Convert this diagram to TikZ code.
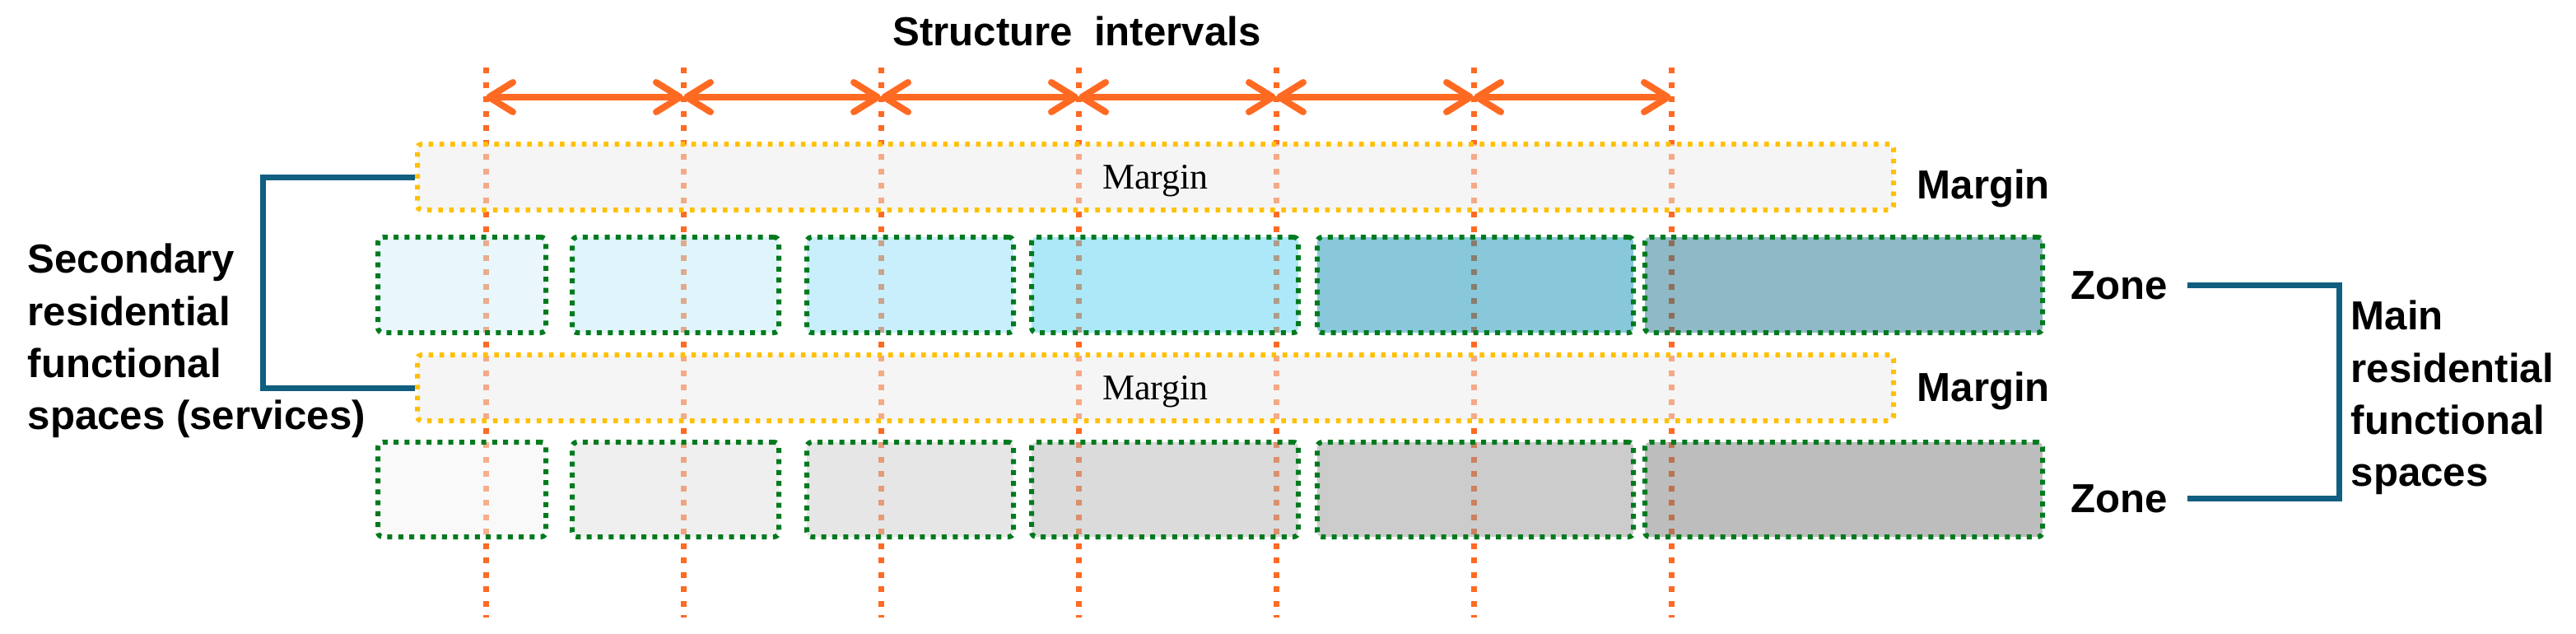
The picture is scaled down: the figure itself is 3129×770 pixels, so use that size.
\documentclass[tikz,border=0pt]{standalone}
\usepackage{fontspec}
\setmainfont{Liberation Sans}
\newfontfamily\marginfont{Liberation Serif}
\usetikzlibrary{arrows.meta}
\definecolor{gridorange}{RGB}{255,106,35}
\definecolor{marginyellow}{RGB}{255,192,0}
\definecolor{margingrey}{RGB}{235,235,235}
\definecolor{zonegreen}{RGB}{0,122,30}
\definecolor{bracketblue}{RGB}{16,94,128}
\definecolor{zb1}{RGB}{211,239,249}
\definecolor{zb2}{RGB}{193,235,247}
\definecolor{zb3}{RGB}{147,223,249}
\definecolor{zb4}{RGB}{91,209,241}
\definecolor{zb5}{RGB}{17,145,181}
\definecolor{zb6}{RGB}{31,115,141}
\definecolor{zg1}{RGB}{243,243,243}
\definecolor{zg2}{RGB}{223,223,223}
\definecolor{zg3}{RGB}{205,205,205}
\definecolor{zg4}{RGB}{183,183,183}
\definecolor{zg5}{RGB}{153,153,153}
\definecolor{zg6}{RGB}{123,123,123}
\tikzset{
  grid/.style={draw=gridorange, line width=0.7mm, dash pattern=on 0.7mm off 1.05mm},
  interval/.style={{Straight Barb[length=2.9mm,width=3.6mm,round]}-{Straight Barb[length=2.9mm,width=3.6mm,round]},
    draw=gridorange, line width=0.8mm},
  marginbox/.style={draw=marginyellow, fill=margingrey, fill opacity=0.5, text opacity=1,
    line width=0.6mm, dash pattern=on 0.55mm off 0.78mm, rounded corners=0.5mm,
    minimum width=179.3mm, minimum height=8mm, inner sep=0pt, text depth=0pt,
    font=\marginfont\fontsize{12.5}{15}\selectfont},
  zonebox/.style={draw=zonegreen, fill opacity=0.5, line width=0.6mm,
    dash pattern=on 0.6mm off 0.73mm, rounded corners=0.6mm, inner sep=0pt},
  labeltext/.style={inner sep=0pt, font=\bfseries\fontsize{14}{18}\selectfont},
  bracket/.style={draw=bracketblue, line width=0.7mm}
}
\begin{document}
\begin{tikzpicture}[x=0.1mm, y=-0.1mm]
  \useasboundingbox (0,0) rectangle (3129,770);
  \draw
    (590,82) coordinate (t1) (590,750) coordinate (b1) (590,118) coordinate (a1)
    (830,82) coordinate (t2) (830,750) coordinate (b2) (830,118) coordinate (a2)
    (1070,82) coordinate (t3) (1070,750) coordinate (b3) (1070,118) coordinate (a3)
    (1310,82) coordinate (t4) (1310,750) coordinate (b4) (1310,118) coordinate (a4)
    (1550,82) coordinate (t5) (1550,750) coordinate (b5) (1550,118) coordinate (a5)
    (1790,82) coordinate (t6) (1790,750) coordinate (b6) (1790,118) coordinate (a6)
    (2030,82) coordinate (t7) (2030,750) coordinate (b7) (2030,118) coordinate (a7);
  \begin{scope}[grid]
    \draw (t1) to (b1);
    \draw (t2) to (b2);
    \draw (t3) to (b3);
    \draw (t4) to (b4);
    \draw (t5) to (b5);
    \draw (t6) to (b6);
    \draw (t7) to (b7);
  \end{scope}
  \node[marginbox] (mtop) at (1403.5,215) {Margin};
  \node[marginbox] (mbot) at (1403.5,471) {Margin};
  \node[zonebox, fill=zb1, minimum width=20.4mm, minimum height=11.6mm] (z11) at (561,346) {};
  \node[zonebox, fill=zb2, minimum width=25.1mm, minimum height=11.6mm] (z12) at (820.5,346) {};
  \node[zonebox, fill=zb3, minimum width=25.1mm, minimum height=11.6mm] (z13) at (1105.5,346) {};
  \node[zonebox, fill=zb4, minimum width=32.4mm, minimum height=11.6mm] (z14) at (1415,346) {};
  \node[zonebox, fill=zb5, minimum width=38.4mm, minimum height=11.6mm] (z15) at (1792,346) {};
  \node[zonebox, fill=zb6, minimum width=48.3mm, minimum height=11.6mm] (z16) at (2239.5,346) {};
  \node[zonebox, fill=zg1, minimum width=20.4mm, minimum height=11.5mm] (z21) at (561,594.5) {};
  \node[zonebox, fill=zg2, minimum width=25.1mm, minimum height=11.5mm] (z22) at (820.5,594.5) {};
  \node[zonebox, fill=zg3, minimum width=25.1mm, minimum height=11.5mm] (z23) at (1105.5,594.5) {};
  \node[zonebox, fill=zg4, minimum width=32.4mm, minimum height=11.5mm] (z24) at (1415,594.5) {};
  \node[zonebox, fill=zg5, minimum width=38.4mm, minimum height=11.5mm] (z25) at (1792,594.5) {};
  \node[zonebox, fill=zg6, minimum width=48.3mm, minimum height=11.5mm] (z26) at (2239.5,594.5) {};
  \begin{scope}[interval]
    \draw (a1) to (a2);
    \draw (a2) to (a3);
    \draw (a3) to (a4);
    \draw (a4) to (a5);
    \draw (a5) to (a6);
    \draw (a6) to (a7);
  \end{scope}
  \node[labeltext, anchor=base] (title) at (1308,55) {Structure\hspace{.25em} intervals};
  \node[labeltext, anchor=base west] (mlabel1) at (2328,241) {Margin};
  \node[labeltext, anchor=base west] (mlabel2) at (2328,487) {Margin};
  \node[labeltext, anchor=base west] (zlabel1) at (2515,363) {Zone};
  \node[labeltext, anchor=base west] (zlabel2) at (2515,622) {Zone};
  \node[labeltext, anchor=west, align=left] (secondary) at (33,414)
    {Secondary\\residential\\functional\\spaces (services)};
  \node[labeltext, anchor=west, align=left] (main) at (2855,483)
    {Main\\residential\\functional\\spaces};
  \begin{scope}[bracket]
    \draw (mtop.west) -- ++(-185,0) |- (mbot.west);
    \draw ([xshift=2.3mm]zlabel1.east) -- ++(185,0) |- ([xshift=2.3mm]zlabel2.east);
  \end{scope}
\end{tikzpicture}
\end{document}
